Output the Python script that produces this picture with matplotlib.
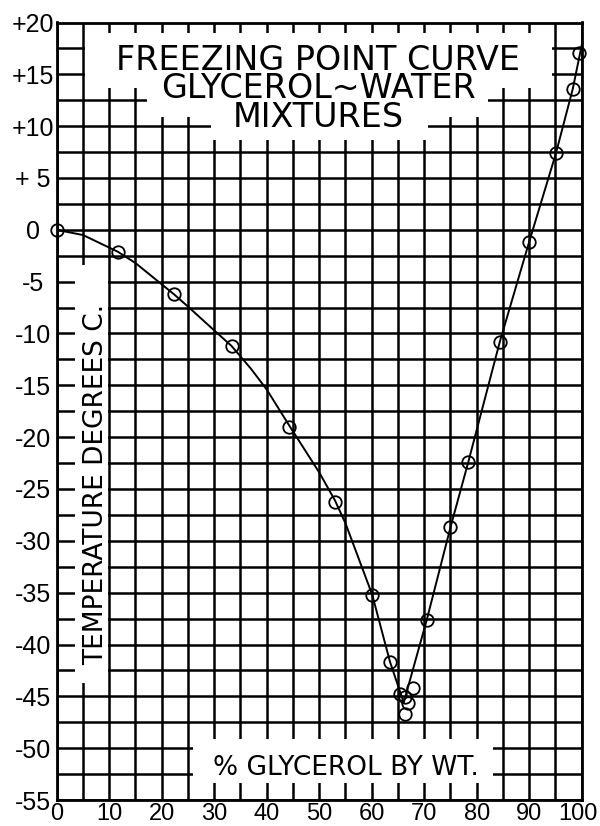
import numpy as np
import matplotlib
matplotlib.use("Agg")
import matplotlib.pyplot as plt
from matplotlib.patches import Rectangle
from matplotlib.transforms import ScaledTranslation

# measured points (circles)
pct_glycerol = [0, 11.6, 22.3, 33.3, 44.2, 53.0, 60.1, 63.5, 65.4, 66.3, 66.9,
                66.3, 67.9, 70.5, 75.0, 78.4, 84.4, 90.0, 95.1, 98.3, 99.4]
freeze_temp = [0, -2.1, -6.2, -11.2, -19.0, -26.3, -35.2, -41.7, -44.8, -45.1, -45.6,
               -46.7, -44.2, -37.6, -28.7, -22.4, -10.8, -1.15, 7.4, 13.6, 17.1]

# the drawn curve
curve_pct = [0, 5, 11.6, 15, 22.3, 25, 30, 33.3, 37, 40, 44.2, 50, 53.0, 55, 60.1,
             63.5, 66.1, 70.5, 75.0, 78.4, 84.4, 90.0, 95.1, 98.3, 100]
curve_temp = [0, -0.5, -2.1, -3.2, -6.2, -7.4, -9.7, -11.2, -13.4, -15.4, -18.8, -23.4,
              -26.1, -28.3, -35.2, -41.7, -45.6, -37.6, -28.7, -22.4, -10.8, -1.15,
              7.4, 13.6, 17.8]

x_ticks = list(range(0, 101, 10))
x_labels = [str(v) for v in x_ticks]
y_ticks = list(range(20, -56, -5))
y_labels = ['+20', '+15', '+10', '+ 5', '0', '-5', '-10', '-15', '-20', '-25',
            '-30', '-35', '-40', '-45', '-50', '-55']

title = 'FREEZING POINT CURVE\nGLYCEROL~WATER\nMIXTURES'

fig = plt.figure(figsize=(6, 8.26), dpi=100)
ax = fig.add_axes([56.7 / 600, 26 / 826, 525 / 600, 777.5 / 826])

ax.set_xlim(0, 100)
ax.set_ylim(-55, 20)
ax.set_xticks(x_ticks)
ax.set_xticklabels(x_labels, family='Liberation Sans', fontsize=17)
ax.set_yticks(y_ticks)
ax.set_yticklabels(y_labels, family='Liberation Sans', fontsize=18)
ax.set_xticks(np.arange(0, 101, 5), minor=True)
ax.set_yticks(np.arange(-55, 20.1, 2.5), minor=True)
ax.tick_params(which='both', length=0)
ax.tick_params(axis='x', pad=2.5)
ax.tick_params(axis='y', pad=17)
for lab in ax.get_yticklabels():
    lab.set_horizontalalignment('center')
# last x label sits against the right edge
last = ax.get_xticklabels()[-1]
last.set_transform(last.get_transform() + ScaledTranslation(-3 / 72, 0, fig.dpi_scale_trans))

ax.set_axisbelow(True)
ax.grid(which='both', color='black', linewidth=1.8)
for sp in ax.spines.values():
    sp.set_linewidth(2.0)
    sp.set_color('black')

# white patches behind the lettering
white_boxes = [
    (5.39, 13.7, 88.95, 5.3),
    (17.2, 10.9, 65.0, 3.1),
    (29.4, 8.7, 41.3, 2.9),
    (3.49, -43.7, 6.3, 40.3),
    (25.96, -53.4, 57.1, 4.3),
]
for bx, by, bw, bh in white_boxes:
    ax.add_patch(Rectangle((bx, by), bw, bh, facecolor='white', edgecolor='none', zorder=1))

ax.plot(curve_pct, curve_temp, color='black', lw=1.4, zorder=3, solid_joinstyle='round')
ax.plot(pct_glycerol, freeze_temp, 'o', mfc='none', mec='black', ms=9, mew=1.3,
        clip_on=False, zorder=4)

ax.text(49.8, 9.9, title, ha='center', va='baseline', multialignment='center',
        linespacing=0.84, fontsize=24, family='DejaVu Sans', zorder=5)

ax.text(8.8, -24.6, 'TEMPERATURE DEGREES C.', rotation=90, rotation_mode='anchor',
        ha='center', va='baseline', fontsize=19, family='DejaVu Sans', zorder=5)
ax.text(55.1, -52.6, '% GLYCEROL BY WT.', ha='center', va='baseline', fontsize=19,
        family='DejaVu Sans', zorder=5)

fig.savefig('out.png', dpi=100)
